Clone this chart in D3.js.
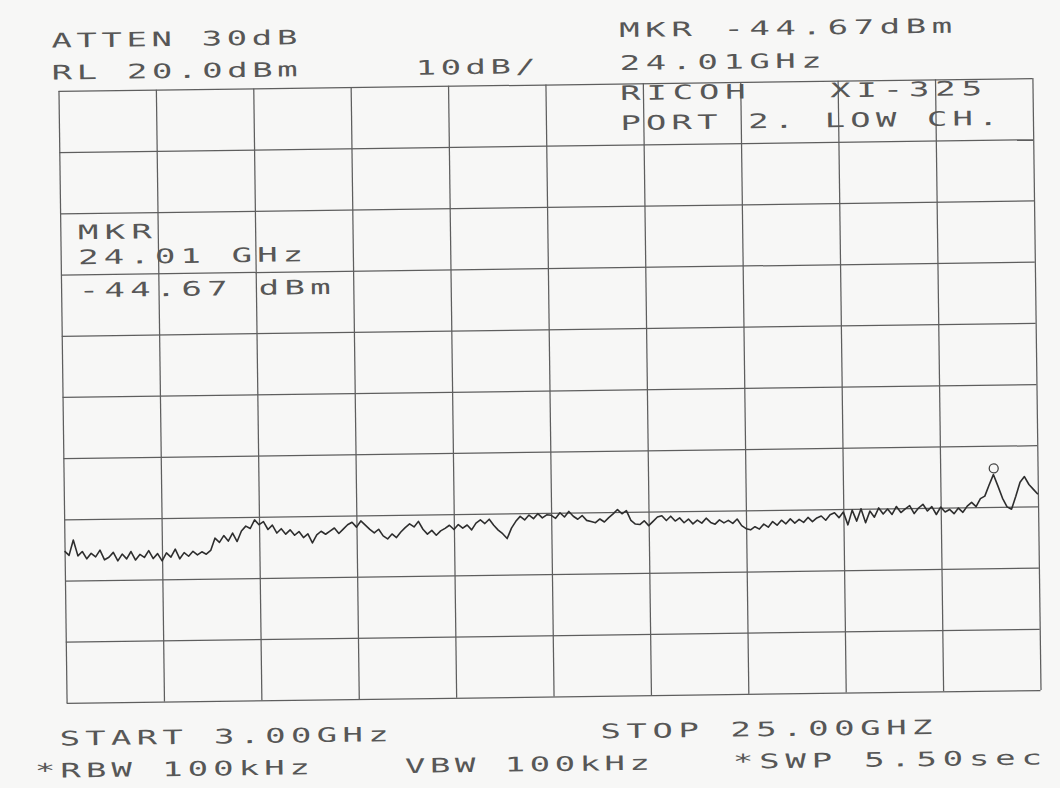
<html>
<head>
<meta charset="utf-8">
<script src="https://d3js.org/d3.v7.min.js"></script>
<style>
  body { margin: 0; background: #f7f7f6; }
  svg { display: block; }
  .grid line { stroke: #5e5e5e; stroke-width: 1.25; }
  .grid path { display: none; }
  .lbl { font-family: "DejaVu Sans Mono", monospace; font-size: 20px; fill: #575757; }
</style>
</head>
<body>
<svg width="1060" height="788"></svg>
<script>
// sweep settings
const freqStart = 3.0, freqStop = 25.0, freqStep = 0.1;   // GHz
const refLevel = 20, dbPerDiv = 10, nDiv = 10;

// vertical grid (GHz) and horizontal grid (dBm)
const xGrid = [3.0, 5.2, 7.4, 9.6, 11.8, 14.0, 16.2, 18.4, 20.6, 22.8, 25.0];
const yGrid = [20, 10, 0, -10, -20, -30, -40, -50, -60, -70, -80];

// trace, one value per 0.1 GHz from 3.0 to 25.0 (dBm)
const traceDbm = [
  -55.2, -55.9, -53.4, -56.0, -55.3, -56.5, -55.6, -56.2, -55.1, -56.7,
  -56.3, -55.5, -56.9, -55.8, -56.6, -55.4, -56.8, -55.9, -56.4, -55.3,
  -56.6, -55.8, -57.0, -55.7, -56.4, -55.1, -56.7, -55.7, -56.3, -55.5,
  -56.1, -55.6, -56.0, -55.4, -53.4, -54.1, -53.0, -53.9, -52.6, -54.0,
  -52.3, -51.5, -51.9, -50.5, -51.3, -50.8, -52.1, -51.4, -52.7, -52.0,
  -52.9, -52.2, -53.1, -52.5, -53.5, -52.9, -54.4, -53.1, -52.5, -53.0,
  -52.5, -52.0, -52.9, -52.2, -51.5, -51.1, -51.9, -50.9, -51.6, -52.3,
  -52.9, -52.3, -53.4, -53.9, -53.1, -53.7, -52.8, -52.1, -51.5, -52.0,
  -51.1, -52.4, -53.2, -52.6, -53.4, -52.7, -52.3, -51.8, -52.5, -51.7,
  -52.3, -51.8, -52.6, -51.5, -51.0, -51.6, -50.9, -51.9, -52.7, -53.3,
  -54.1, -52.4, -51.3, -50.5, -51.1, -50.3, -50.9, -50.1, -50.8, -50.3,
  -50.4, -50.9, -50.0, -50.7, -49.8, -50.6, -51.1, -50.5, -51.3, -51.5,
  -51.7, -51.1, -51.6, -50.9, -50.3, -49.6, -50.3, -49.8, -51.4, -52.0,
  -52.1, -51.5, -52.3, -51.6, -50.9, -50.7, -51.5, -50.8, -51.6, -51.1,
  -51.9, -51.3, -52.1, -51.5, -52.0, -51.2, -51.9, -52.2, -51.5, -52.0,
  -51.6, -52.1, -51.4, -52.5, -53.0, -53.2, -52.7, -53.1, -52.3, -52.8,
  -51.9, -52.5, -51.7, -52.3, -51.5, -52.2, -51.6, -52.1, -51.3, -52.0,
  -51.4, -51.1, -51.8, -50.9, -50.6, -51.4, -50.5, -52.6, -50.2, -52.0,
  -50.0, -52.3, -50.4, -51.4, -49.9, -50.9, -50.1, -51.0, -49.7, -50.7,
  -50.1, -49.6, -50.9, -50.0, -49.4, -50.5, -49.8, -51.1, -49.9, -50.7,
  -50.3, -51.0, -50.1, -50.8, -49.8, -49.2, -49.9, -48.6, -48.2, -46.4,
  -44.7, -46.6, -48.6, -50.0, -50.4, -48.3, -46.0, -45.1, -46.4, -47.2, -48.0
];

const marker = { ghz: 24.01, dbm: -44.67 };

// plotter annotations
const labels = [
  { t: "ATTEN 30dB",      x: 56,  y: 41,  w: 246 },
  { t: "RL 20.0dBm",      x: 56,  y: 73,  w: 246 },
  { t: "10dB/",           x: 420, y: 73,  w: 120 },
  { t: "MKR -44.67dBm",   x: 624, y: 38,  w: 333 },
  { t: "24.01GHz",        x: 624, y: 71,  w: 202 },
  { t: "RICOH   XI-325",  x: 624, y: 101, w: 362 },
  { t: "PORT 2. LOW CH.", x: 624, y: 131, w: 378 },
  { t: "MKR",             x: 80,  y: 233, w: 74 },
  { t: "24.01 GHz",       x: 80,  y: 258, w: 225 },
  { t: "-44.67 dBm",      x: 80,  y: 291, w: 252 },
  { t: "START 3.00GHz",   x: 55,  y: 739, w: 329 },
  { t: "STOP 25.00GHZ",   x: 596, y: 739, w: 332 },
  { t: "*RBW 100kHz",     x: 30,  y: 771, w: 275 },
  { t: "VBW 100kHz",      x: 400, y: 771, w: 245 },
  { t: "*SWP 5.50sec",    x: 728, y: 771, w: 309 }
];

const svg = d3.select("svg");
// the scanned sheet sits slightly rotated
const g = svg.append("g").attr("transform", "rotate(-0.76, 549, 391)");

const gLeft = 62.5, gRight = 1036.5, gTop = 84.5, gBottom = 696.5;
const x = d3.scaleLinear().domain([freqStart, freqStop]).range([gLeft, gRight]);
const y = d3.scaleLinear().domain([refLevel - dbPerDiv * nDiv, refLevel]).range([gBottom, gTop]);

g.append("g").attr("class", "grid")
  .attr("transform", "translate(0," + gBottom + ")")
  .call(d3.axisBottom(x).tickValues(xGrid).tickSize(-(gBottom - gTop)).tickFormat(""));
g.append("g").attr("class", "grid")
  .attr("transform", "translate(" + gLeft + ",0)")
  .call(d3.axisLeft(y).tickValues(yGrid).tickSize(-(gRight - gLeft)).tickFormat(""));

const line = d3.line()
  .x((d, i) => x(freqStart + i * freqStep))
  .y(d => y(d));
g.append("path").datum(traceDbm)
  .attr("d", line)
  .attr("fill", "none")
  .attr("stroke", "#2e2e2e")
  .attr("stroke-width", 1.6)
  .attr("stroke-linejoin", "round");

g.append("circle")
  .attr("cx", x(marker.ghz))
  .attr("cy", y(marker.dbm) - 6)
  .attr("r", 4.5)
  .attr("fill", "none")
  .attr("stroke", "#444")
  .attr("stroke-width", 1.3);

const sx = 1.7;
g.selectAll("text.lbl").data(labels).enter().append("text")
  .attr("class", "lbl")
  .attr("transform", d => "translate(" + d.x + "," + d.y + ") scale(" + sx + ",1)")
  .attr("textLength", d => d.w / sx)
  .attr("lengthAdjust", "spacing")
  .attr("xml:space", "preserve")
  .style("white-space", "pre")
  .text(d => d.t);
</script>
</body>
</html>
